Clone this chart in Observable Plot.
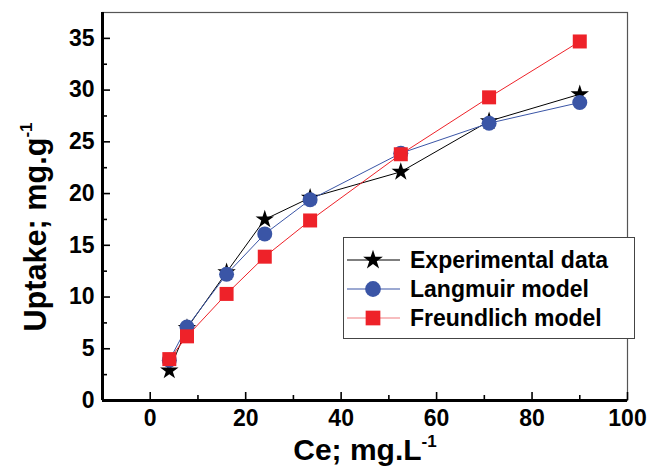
<!DOCTYPE html>
<html>
<head>
<meta charset="utf-8">
<script src="https://cdn.jsdelivr.net/npm/d3@7"></script>
<script src="https://cdn.jsdelivr.net/npm/@observablehq/plot@0.6"></script>
<style>
  html, body { margin: 0; padding: 0; background: #fff; }
  #chart { width: 661px; height: 468px; }
  svg { font-family: "Liberation Sans", Arial, sans-serif; }
</style>
</head>
<body>
<div id="chart"></div>
<script>
// ---- data ----
const ce = [4, 7.7, 16, 24, 33.5, 52.5, 71, 90];
const experimental = [2.9, 7.0, 12.4, 17.5, 19.6, 22.1, 27.0, 29.6];
const langmuir = [3.9, 7.1, 12.2, 16.1, 19.4, 23.9, 26.8, 28.8];
const freundlich = [4.0, 6.2, 10.3, 13.9, 17.4, 23.8, 29.3, 34.7];
const seriesNames = ["Experimental data", "Langmuir model", "Freundlich model"];
const xMajorTicks = [0, 20, 40, 60, 80, 100];
const xMinorTicks = [10, 30, 50, 70, 90];
const yMajorTicks = [0, 5, 10, 15, 20, 25, 30, 35];
const yMinorTicks = [2.5, 7.5, 12.5, 17.5, 22.5, 27.5, 32.5];
const xLabel = "Ce; mg.L";
const yLabel = "Uptake; mg.g";
const labelSup = "-1";

const colors = ["#000000", "#3a55a6", "#ee2229"];
const legendLineColors = ["#000000", "#3a55a6", "#f07c80"];
const symbols = ["star", "circle", "square"];
const radii = [5.8, 7.5, 7.9];

const rows = [];
[experimental, langmuir, freundlich].forEach((vals, s) => {
  vals.forEach((v, i) => rows.push({series: seriesNames[s], x: ce[i], y: v}));
});
const bySeries = name => rows.filter(d => d.series === name);

const tickFont = {fontSize: 23, fontWeight: "bold", fill: "#000"};

const marks = [
  Plot.frame({stroke: "#555", strokeWidth: 1.2}),
  Plot.axisX(xMajorTicks, {tickSize: -8, tickPadding: 17, strokeWidth: 1.6, ...tickFont, label: null}),
  Plot.axisX(xMinorTicks, {tickSize: -5, tickFormat: () => "", strokeWidth: 1.6, label: null}),
  Plot.axisY(yMajorTicks, {tickSize: -8, tickPadding: 16, strokeWidth: 1.6, ...tickFont, label: null}),
  Plot.axisY(yMinorTicks, {tickSize: -5, tickFormat: () => "", strokeWidth: 1.6, label: null}),
  Plot.ruleX([-10], {stroke: "#000", strokeWidth: 3}),
  Plot.ruleY([0], {stroke: "#000", strokeWidth: 3})
];
seriesNames.forEach((name, s) => {
  marks.push(Plot.line(bySeries(name), {x: "x", y: "y", stroke: colors[s], strokeWidth: 1}));
  marks.push(Plot.dot(bySeries(name), {x: "x", y: "y", symbol: () => symbols[s], r: radii[s], fill: colors[s], stroke: "none"}));
});

const chart = Plot.plot({
  width: 661,
  height: 468,
  marginLeft: 102,
  marginRight: 34,
  marginTop: 12,
  marginBottom: 68,
  style: {fontFamily: '"Liberation Sans", Arial, sans-serif', background: "#fff"},
  x: {domain: [-10, 100], axis: null},
  y: {domain: [0, 37.5], axis: null},
  symbol: {type: "identity"},
  marks
});
document.getElementById("chart").appendChild(chart);

const svg = d3.select(chart);
// axis titles with superscripts
const xt = svg.append("text")
  .attr("x", 365).attr("y", 460)
  .attr("text-anchor", "middle")
  .attr("font-size", 30).attr("font-weight", "bold").attr("fill", "#000");
xt.append("tspan").text(xLabel);
xt.append("tspan").attr("font-size", 17).attr("dy", -13).text(labelSup);

const yt = svg.append("text")
  .attr("transform", "translate(46,227) rotate(-90)")
  .attr("text-anchor", "middle")
  .attr("font-size", 32).attr("font-weight", "bold").attr("fill", "#000");
yt.append("tspan").attr("textLength", 194).attr("lengthAdjust", "spacingAndGlyphs").text(yLabel);
yt.append("tspan").attr("font-size", 17).attr("dy", -14).text(labelSup);

// legend
const lg = svg.append("g").attr("transform", "translate(343,237)");
lg.append("rect").attr("x", 0.5).attr("y", 0.5).attr("width", 291).attr("height", 101)
  .attr("fill", "#fff").attr("stroke", "#444").attr("stroke-width", 1);
const d3sym = {star: d3.symbolStar, circle: d3.symbolCircle, square: d3.symbolSquare};
seriesNames.forEach((name, s) => {
  const cy = 23 + s * 29;
  lg.append("line").attr("x1", 4).attr("x2", 57).attr("y1", cy).attr("y2", cy)
    .attr("stroke", legendLineColors[s]).attr("stroke-width", 1.2);
  lg.append("path")
    .attr("transform", `translate(30,${cy})`)
    .attr("d", d3.symbol(d3sym[symbols[s]], Math.PI * (radii[s] + 0.4) * (radii[s] + 0.4))())
    .attr("fill", colors[s]);
  lg.append("text").attr("x", 67).attr("y", cy).attr("dy", "0.36em")
    .attr("text-anchor", "start")
    .attr("font-size", 23).attr("font-weight", "bold").attr("fill", "#000")
    .text(name);
});
</script>
</body>
</html>
